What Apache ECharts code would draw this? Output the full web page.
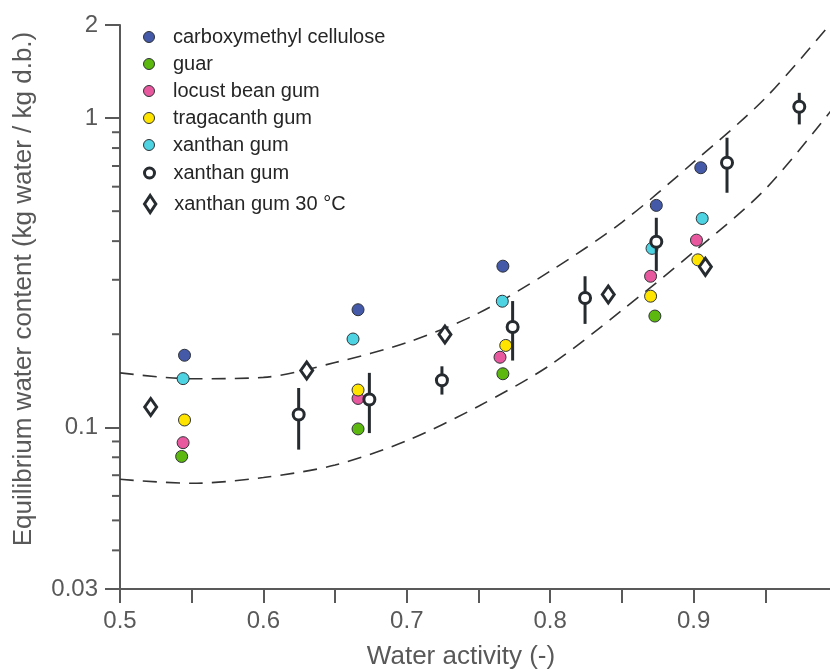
<!DOCTYPE html>
<html>
<head>
<meta charset="utf-8">
<script src="https://cdn.jsdelivr.net/npm/echarts@6/dist/echarts.min.js"></script>
<style>
  html, body { margin: 0; padding: 0; background: #fff; }
  #chart { width: 830px; height: 670px; }
</style>
</head>
<body>
<div id="chart"></div>
<script>
// water activity / equilibrium water content
const cmcData = [[0.545, 0.171], [0.666, 0.240], [0.767, 0.332], [0.874, 0.522], [0.905, 0.691]]
const guarData = [[0.543, 0.0805], [0.666, 0.0988], [0.767, 0.149], [0.873, 0.229]]
const lbgData = [[0.544, 0.0892], [0.666, 0.124], [0.765, 0.1685], [0.870, 0.308], [0.902, 0.403]]
const tragData = [[0.545, 0.1056], [0.666, 0.132], [0.769, 0.184], [0.870, 0.2655], [0.903, 0.348]]
const xanthanData = [[0.544, 0.1437], [0.6625, 0.193], [0.7666, 0.2557], [0.871, 0.379], [0.906, 0.4735]]

// xanthan gum (open circles) with error bars
const xanOpenX = [0.6246, 0.6739, 0.7245, 0.7738, 0.8243, 0.874, 0.9233, 0.9737]
const xanOpenY = [0.110, 0.123, 0.142, 0.211, 0.262, 0.398, 0.717, 1.088]
const xanOpenLo = [0.0847, 0.0958, 0.1276, 0.1644, 0.216, 0.32, 0.5735, 0.954]
const xanOpenHi = [0.134, 0.150, 0.1575, 0.256, 0.308, 0.476, 0.864, 1.207]

// xanthan gum 30 °C
const xan30Data = [[0.5214, 0.1164], [0.6302, 0.1526], [0.7266, 0.1995], [0.8405, 0.2688], [0.9082, 0.3303]]

// dashed envelope curves
const curveX = [0.5, 0.55, 0.6, 0.65, 0.7, 0.75, 0.8, 0.85, 0.9, 0.95, 1.0]
const upperY = [0.150, 0.1435, 0.145, 0.162, 0.188, 0.234, 0.32, 0.46, 0.72, 1.16, 2.14]
const lowerY = [0.0679, 0.0659, 0.0688, 0.0755, 0.0905, 0.117, 0.159, 0.239, 0.369, 0.589, 1.118]

// y minor ticks (log axis)
const yMinorTicks = [0.04, 0.05, 0.06, 0.07, 0.08, 0.09, 0.2, 0.3, 0.4, 0.5, 0.6, 0.7, 0.8, 0.9]

const names = ['carboxymethyl cellulose', 'guar', 'locust bean gum', 'tragacanth gum', 'xanthan gum']
const colors = ['#4559a9', '#5cb80e', '#e8589f', '#ffe400', '#4dd3e2']
const openName = 'xanthan gum '   // same label, separate legend entry
const diamondName = 'xanthan gum 30 °C'

const axisColor = '#595959'
const dark = '#262b30'
const fontFamily = '"Liberation Sans", Arial, sans-serif'

const chart = echarts.init(document.getElementById('chart'))

const filledSeries = [cmcData, guarData, lbgData, tragData, xanthanData].map((d, i) => ({
  name: names[i],
  type: 'scatter',
  data: d,
  symbol: 'circle',
  symbolSize: 12,
  itemStyle: { color: colors[i], borderColor: '#2e3236', borderWidth: 1, opacity: 1 },
  z: 3
}))

const curveLine = (ys) => ({
  type: 'line',
  data: curveX.map((x, i) => [x, ys[i]]),
  smooth: 0.3,
  showSymbol: false,
  symbol: 'none',
  silent: true,
  lineStyle: { color: '#333', width: 1.6, type: [14, 9] },
  z: 1
})

const legendBase = {
  orient: 'vertical',
  left: 143,
  padding: 0,
  itemWidth: 38,
  itemGap: 7,
  selectedMode: false,
  textStyle: { fontSize: 20, color: '#262626', fontFamily, lineHeight: 20 }
}

chart.setOption({
  animation: false,
  grid: { left: 120, top: 25, width: 717, height: 564, outerBoundsMode: 'none' },
  legend: [
    Object.assign({}, legendBase, {
      top: 27, itemHeight: 11, icon: 'circle', data: names,
      itemStyle: { borderWidth: 1, borderColor: '#2e3236' }
    }),
    Object.assign({}, legendBase, {
      top: 163, itemHeight: 10, icon: 'circle', data: [openName],
      itemStyle: { borderWidth: 3, borderColor: dark, color: '#fff' }
    }),
    Object.assign({}, legendBase, {
      top: 194, itemHeight: 17, icon: 'path://M6,0L12,9L6,18L0,9Z', data: [diamondName],
      itemStyle: { borderWidth: 3, borderColor: dark, color: '#fff' }
    })
  ],
  xAxis: {
    type: 'value',
    min: 0.5,
    max: 1.0,
    interval: 0.05,
    name: 'Water activity (-)',
    nameLocation: 'middle',
    nameGap: 55,
    nameTextStyle: { fontSize: 26, color: axisColor, fontFamily, padding: [0, 35, 0, 0] },
    axisLine: { lineStyle: { color: axisColor, width: 2 } },
    axisTick: { length: 14, lineStyle: { color: axisColor, width: 2 } },
    axisLabel: {
      margin: 20,
      fontSize: 24,
      color: axisColor,
      fontFamily,
      formatter: (v) => (Math.round(v * 100) % 10 === 0 && v < 0.999) ? v.toFixed(1) : ''
    },
    splitLine: { show: false }
  },
  yAxis: {
    type: 'log',
    logBase: 10,
    min: 0.03,
    max: 2,
    name: 'Equilibrium water content (kg water / kg d.b.)',
    nameLocation: 'middle',
    nameGap: 83,
    nameTextStyle: { fontSize: 26, color: axisColor, fontFamily, padding: [0, 0, 0, 36] },
    axisLine: { show: true, lineStyle: { color: axisColor, width: 2 } },
    axisTick: { show: true, length: 15, lineStyle: { color: axisColor, width: 2 } },
    axisLabel: {
      margin: 22,
      fontSize: 24,
      color: axisColor,
      fontFamily,
      formatter: (v) => String(+(+v).toPrecision(3))
    },
    splitLine: { show: false },
    minorTick: { show: false }
  },
  series: [
    curveLine(upperY),
    curveLine(lowerY),
    {
      // y minor ticks, drawn through the log axis
      type: 'custom',
      silent: true,
      clip: false,
      data: yMinorTicks.map((v) => [0.5, v]),
      encode: { x: 0, y: 1 },
      renderItem: (params, api) => {
        const p = api.coord([0.5, api.value(1)])
        return {
          type: 'line',
          shape: { x1: p[0] - 8, y1: p[1], x2: p[0], y2: p[1] },
          style: { stroke: axisColor, lineWidth: 2 }
        }
      },
      z: 1
    },
    ...filledSeries,
    {
      // error bars of the open circles
      type: 'custom',
      silent: true,
      data: xanOpenX.map((x, i) => [x, xanOpenLo[i], xanOpenHi[i]]),
      encode: { x: 0, y: [1, 2] },
      renderItem: (params, api) => {
        const lo = api.coord([api.value(0), api.value(1)])
        const hi = api.coord([api.value(0), api.value(2)])
        return {
          type: 'line',
          shape: { x1: lo[0], y1: lo[1], x2: hi[0], y2: hi[1] },
          style: { stroke: dark, lineWidth: 3 }
        }
      },
      z: 4
    },
    {
      name: openName,
      type: 'scatter',
      data: xanOpenX.map((x, i) => [x, xanOpenY[i]]),
      symbol: 'circle',
      symbolSize: 11,
      itemStyle: { color: '#fff', borderColor: dark, borderWidth: 3, opacity: 1 },
      z: 5
    },
    {
      name: diamondName,
      type: 'scatter',
      data: xan30Data,
      symbol: 'diamond',
      symbolSize: [12, 17],
      itemStyle: { color: '#fff', borderColor: dark, borderWidth: 3, opacity: 1 },
      z: 5
    }
  ]
})
</script>
</body>
</html>
